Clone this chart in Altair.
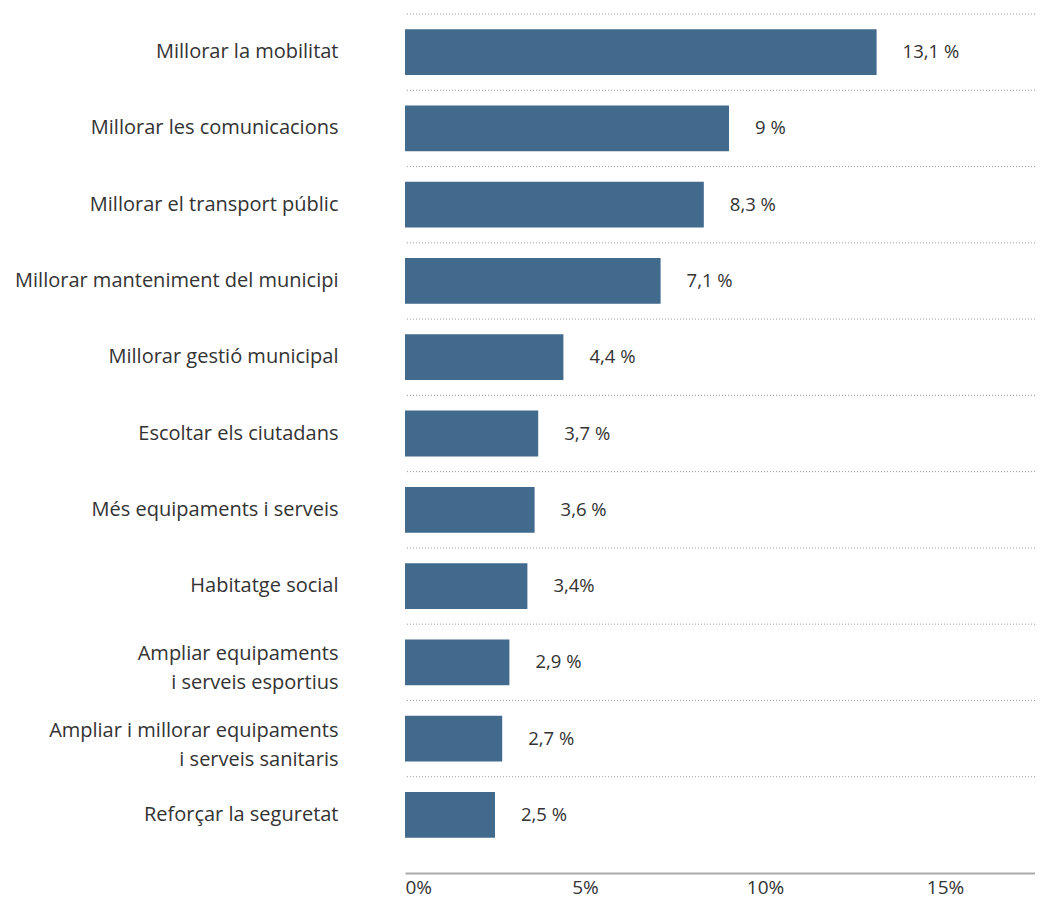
import altair as alt
import pandas as pd

categories = [
    "Millorar la mobilitat",
    "Millorar les comunicacions",
    "Millorar el transport públic",
    "Millorar manteniment del municipi",
    "Millorar gestió municipal",
    "Escoltar els ciutadans",
    "Més equipaments i serveis",
    "Habitatge social",
    "Ampliar equipaments|i serveis esportius",
    "Ampliar i millorar equipaments|i  serveis sanitaris",
    "Reforçar la seguretat",
]
values = [13.1, 9.0, 8.3, 7.1, 4.4, 3.7, 3.6, 3.4, 2.9, 2.7, 2.5]
value_labels = ["13,1 %", "9 %", "8,3 %", "7,1 %", "4,4 %", "3,7 %", "3,6 %",
                "3,4%", "2,9 %", "2,7 %", "2,5 %"]
x_ticks = [0, 5, 10, 15]

df = pd.DataFrame({"cat": categories, "val": values, "lab": value_labels})

FONT = "Open Sans"
TXT = "#333333"

y_scale = alt.Scale(domain=categories, paddingInner=0, paddingOuter=0)
x_scale = alt.Scale(domain=[0, 17.5], nice=False, zero=True)

y_axis = alt.Axis(
    labelExpr="split(datum.label, '|')",
    labelFont=FONT,
    labelFontSize=20,
    labelColor=TXT,
    labelPadding=67,
    labelLineHeight=29,
    labelOffset={"condition": {"test": "indexof(datum.label, '|') >= 0", "value": -8}, "value": 0},
    ticks=False,
    domain=False,
    grid=False,
    labelLimit=400,
)

grid = alt.Chart(df).mark_rule(
    color="#9a9a9a", strokeDash=[1, 2], strokeWidth=1
).encode(
    y=alt.Y("cat:N", scale=y_scale, bandPosition=0, title=None, axis=y_axis),
)

bars = alt.Chart(df).mark_bar(color="#416a8d", height={"band": 0.6}).encode(
    y=alt.Y("cat:N", scale=y_scale, title=None, axis=y_axis),
    x=alt.X(
        "val:Q",
        scale=x_scale,
        title=None,
        axis=alt.Axis(
            values=x_ticks,
            labelExpr="datum.value + '%'",
            labelFont=FONT,
            labelFontSize=19,
            labelColor=TXT,
            labelPadding=5,
            ticks=False,
            grid=False,
            domainColor="#aaaaaa",
            domainWidth=2,
            offset=20,
        ),
    ),
)

texts = alt.Chart(df).mark_text(
    align="left", baseline="middle", dx=26, font=FONT, fontSize=18.5, color=TXT
).encode(
    y=alt.Y("cat:N", scale=y_scale, title=None, axis=y_axis),
    x=alt.X("val:Q", scale=x_scale),
    text="lab:N",
)

chart = alt.layer(grid, bars, texts).properties(
    width=630,
    height=839,
    autosize=alt.AutoSizeParams(type="none"),
    padding={"left": 397, "top": 6, "right": 0, "bottom": 50},
).configure_view(stroke=None)

chart.save("out.html", embed_options={"renderer": "svg", "actions": False})
